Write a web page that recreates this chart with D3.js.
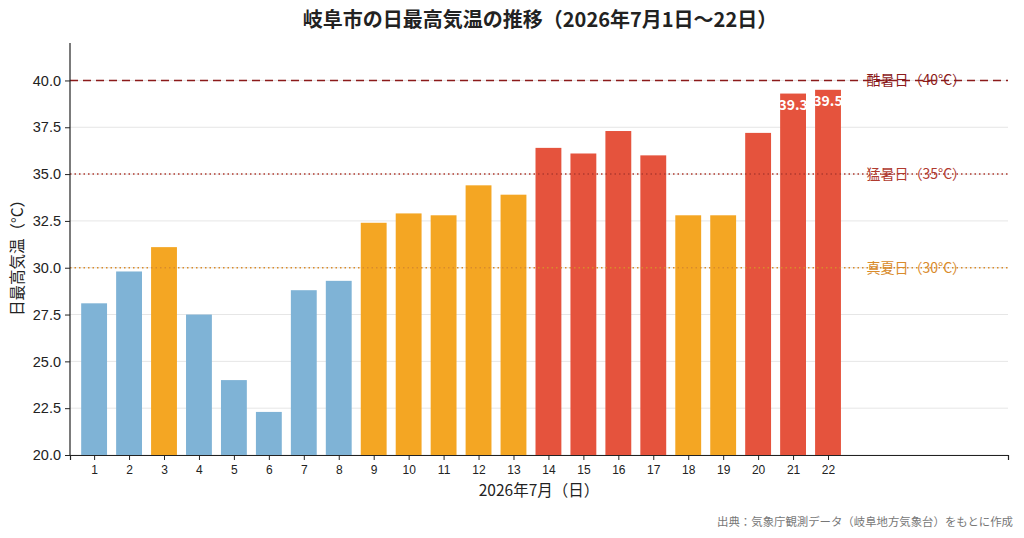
<!DOCTYPE html>
<html>
<head>
<meta charset="utf-8">
<script src="https://cdn.jsdelivr.net/npm/d3@7"></script>
<style>
  body { margin: 0; background: #fff; }
  svg { font-family: "Noto Sans CJK JP", "Noto Sans", sans-serif; }
</style>
</head>
<body>
<script>
// Data
const days = [1, 2, 3, 4, 5, 6, 7, 8, 9, 10, 11, 12, 13, 14, 15, 16, 17, 18, 19, 20, 21, 22];
const maxTemps = [28.1, 29.8, 31.1, 27.5, 24.0, 22.3, 28.8, 29.3, 32.4, 32.9, 32.8, 34.4, 33.9,
                  36.4, 36.1, 37.3, 36.0, 32.8, 32.8, 37.2, 39.3, 39.5];
const yTicks = [20.0, 22.5, 25.0, 27.5, 30.0, 32.5, 35.0, 37.5, 40.0];
const thresholds = [
  { value: 40, label: "酷暑日（40°C）", color: "#8b1a1a", dash: "8,5", width: 1.6 },
  { value: 35, label: "猛暑日（35°C）", color: "#b03a2e", dash: "1.5,3", width: 1.5 },
  { value: 30, label: "真夏日（30°C）", color: "#d98b2b", dash: "1.5,3", width: 1.5 }
];
const labeledDays = [21, 22];

const width = 1024, height = 538;
const margin = { left: 70, right: 16, top: 43, bottom: 83 };

const svg = d3.select("body").append("svg")
  .attr("width", width)
  .attr("height", height);

// Scales
const x = d3.scaleLinear()
  .domain([0.31, 27.15])
  .range([margin.left, width - margin.right]);
const y = d3.scaleLinear()
  .domain([20, 42])
  .range([height - margin.bottom, margin.top]);

const barW = (x(1) - x(0)) * 0.74;
const colorFor = v => v >= 35 ? "#e5533d" : v >= 30 ? "#f4a623" : "#7fb3d6";

// Grid lines
svg.append("g")
  .selectAll("line")
  .data(yTicks)
  .join("line")
  .attr("x1", margin.left).attr("x2", width - margin.right)
  .attr("y1", d => y(d)).attr("y2", d => y(d))
  .attr("stroke", "#e6e6e6").attr("stroke-width", 1);

// Bars
svg.append("g")
  .selectAll("rect")
  .data(days)
  .join("rect")
  .attr("x", (d) => x(d) - barW / 2)
  .attr("y", (d, i) => y(maxTemps[i]))
  .attr("width", barW)
  .attr("height", (d, i) => y(20) - y(maxTemps[i]))
  .attr("fill", (d, i) => colorFor(maxTemps[i]));

// Threshold lines and labels
const th = svg.append("g");
th.selectAll("line")
  .data(thresholds)
  .join("line")
  .attr("x1", margin.left).attr("x2", width - margin.right)
  .attr("y1", d => y(d.value)).attr("y2", d => y(d.value))
  .attr("stroke", d => d.color)
  .attr("stroke-width", d => d.width)
  .attr("stroke-dasharray", d => d.dash);
th.selectAll("text")
  .data(thresholds)
  .join("text")
  .attr("x", x(23.1))
  .attr("y", d => y(d.value))
  .attr("dy", "0.35em")
  .attr("font-size", 14)
  .attr("fill", d => d.color)
  .text(d => d.label);

// Value labels on the hottest bars
svg.append("g")
  .selectAll("text")
  .data(labeledDays)
  .join("text")
  .attr("x", d => x(d))
  .attr("y", d => y(maxTemps[d - 1]) + 16)
  .attr("text-anchor", "middle")
  .attr("font-size", 14)
  .attr("font-weight", "bold")
  .attr("fill", "#fff")
  .text(d => maxTemps[d - 1].toFixed(1));

// Axes
const yAxis = svg.append("g")
  .attr("transform", `translate(${margin.left},0)`)
  .call(d3.axisLeft(y).tickValues(yTicks).tickFormat(d3.format(".1f")).tickSize(5).tickPadding(4));
yAxis.select(".domain").attr("d", `M0,${y(20)}V${margin.top}`);
yAxis.selectAll("text").attr("font-size", 14.5).attr("fill", "#222");

const xAxis = svg.append("g")
  .attr("transform", `translate(0,${y(20)})`)
  .call(d3.axisBottom(x).tickValues(days).tickFormat(d3.format("d")).tickSize(5).tickPadding(5));
xAxis.selectAll("text").attr("font-size", 12).attr("fill", "#222");

svg.selectAll(".domain").attr("stroke", "#222").attr("stroke-width", 1.2);
svg.selectAll(".tick line").attr("stroke", "#222");

// Titles
svg.append("text")
  .attr("x", 540).attr("y", 27)
  .attr("text-anchor", "middle")
  .attr("font-size", 20).attr("font-weight", "bold")
  .attr("fill", "#222")
  .text("岐阜市の日最高気温の推移（2026年7月1日〜22日）");

svg.append("text")
  .attr("x", (margin.left + width - margin.right) / 2).attr("y", 496)
  .attr("text-anchor", "middle")
  .attr("font-size", 15.5)
  .attr("fill", "#222")
  .text("2026年7月（日）");

svg.append("text")
  .attr("transform", `translate(23,${(y(20) + margin.top) / 2 + 5}) rotate(-90)`)
  .attr("text-anchor", "middle")
  .attr("font-size", 15.5)
  .attr("fill", "#222")
  .text("日最高気温（°C）");

svg.append("text")
  .attr("x", 1013).attr("y", 526)
  .attr("text-anchor", "end")
  .attr("font-size", 11.4)
  .attr("fill", "#777")
  .text("出典：気象庁観測データ（岐阜地方気象台）をもとに作成");
</script>
</body>
</html>
